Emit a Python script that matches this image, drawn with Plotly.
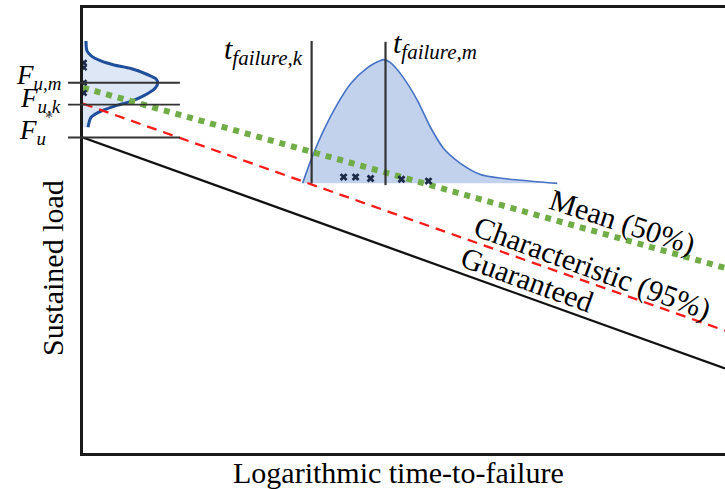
import plotly.graph_objects as go

# ---- data (conceptual units: log-time 0..100, load 0..100) ----
time_ends = [0, 100]
guaranteed_load = [70.9, 19.0]
characteristic_load = [78.5, 27.5]
mean_load = [82.1, 41.6]

# short-term strength distribution (left, drawn along the load axis)
strength_pdf_load = [92.6, 90.4, 89.3, 88.1, 87.2, 86.4, 85.0, 84.1, 83.2, 81.9,
                     80.3, 79.0, 77.9, 76.5, 75.4, 73.2]
strength_pdf_density = [0.47, 0.62, 1.24, 2.80, 4.82, 7.47, 10.11, 11.35, 11.66,
                        11.20, 9.49, 7.47, 4.82, 2.33, 1.24, 0.78]
strength_samples_load = [87.7, 86.6, 83.2, 80.9]
strength_samples_time = [0.15, 0.15, 0.15, 0.15]

# time-to-failure distribution (drawn above the sustained load level)
ttf_pdf_time = [34.21, 35.61, 37.48, 39.66, 41.68, 44.32, 45.88, 46.81, 47.90,
                49.92, 52.10, 54.12, 56.14, 58.79, 61.90, 65.47, 73.87]
ttf_pdf_load = [60.6, 66.2, 72.5, 78.5, 83.0, 86.6, 87.9, 88.4, 87.7, 84.3,
                79.2, 73.2, 68.5, 65.1, 62.6, 61.7, 60.6]
failure_time = [40.59, 42.46, 44.79, 49.61, 53.81]
failure_load = [62.0, 62.0, 61.7, 61.5, 61.1]

# reference levels
F_um, F_uk, F_u = 83.2, 78.3, 70.9
t_fail_k, t_fail_m = 35.61, 47.12
t_k_span = [60.6, 92.6]
t_m_span = [60.2, 92.4]

SERIF = "Liberation Serif, Times New Roman, serif"

fig = go.Figure()

fig.add_trace(go.Scatter(
    x=ttf_pdf_time, y=ttf_pdf_load, mode="lines", fill="toself",
    fillcolor="#c3d2ec", line=dict(color="#4472c4", width=1.6, shape="spline", smoothing=0.8),
    hoverinfo="skip", showlegend=False))

fig.add_trace(go.Scatter(
    x=strength_pdf_density, y=strength_pdf_load, mode="lines", fill="tozerox",
    fillcolor="#dde7f6", line=dict(color="#1f4e9a", width=3, shape="spline", smoothing=0.8),
    hoverinfo="skip", showlegend=False))

fig.add_trace(go.Scatter(x=time_ends, y=guaranteed_load, mode="lines",
                         line=dict(color="#111111", width=2.3), showlegend=False))
fig.add_trace(go.Scatter(x=time_ends, y=characteristic_load, mode="lines",
                         line=dict(color="#ff1a1a", width=2.3, dash="10px,7px"), showlegend=False))
fig.add_trace(go.Scatter(x=time_ends, y=mean_load, mode="lines",
                         line=dict(color="#70ad47", width=6, dash="dot"), showlegend=False))

fig.add_trace(go.Scatter(x=[t_fail_k, t_fail_k], y=t_k_span, mode="lines",
                         line=dict(color="#333333", width=2.2), showlegend=False))
fig.add_trace(go.Scatter(x=[t_fail_m, t_fail_m], y=t_m_span, mode="lines",
                         line=dict(color="#333333", width=2.2), showlegend=False))

fig.add_trace(go.Scatter(x=failure_time, y=failure_load, mode="markers",
                         marker=dict(symbol="x", size=7, color="#1c2a48"), showlegend=False))
fig.add_trace(go.Scatter(x=strength_samples_time, y=strength_samples_load, mode="markers",
                         cliponaxis=False,
                         marker=dict(symbol="x", size=6, color="#1c2a48"), showlegend=False))

# level guide lines (extend a little left of the load axis)
for lvl in [F_um, F_uk, F_u]:
    fig.add_shape(type="line", xref="paper", yref="y", x0=-0.0234, x1=0.151,
                  y0=lvl, y1=lvl, line=dict(color="#333333", width=1.8), layer="above")

ann_font = dict(family=SERIF, size=27, color="black")
fig.add_annotation(xref="paper", yref="paper", x=-0.031, y=0.845, xanchor="right", yanchor="middle",
                   text="<i>F<sub>u,m</sub></i>", showarrow=False, font=ann_font)
fig.add_annotation(xref="paper", yref="paper", x=-0.031, y=0.793, xanchor="right", yanchor="middle",
                   text="<i>F<sub>u,k</sub></i>", showarrow=False, font=ann_font)
fig.add_annotation(xref="paper", yref="paper", x=-0.0545, y=0.721, xanchor="right", yanchor="middle",
                   text="<i>F<sub>u</sub></i>", showarrow=False, font=ann_font)
fig.add_annotation(xref="paper", yref="paper", x=-0.053, y=0.755, xanchor="center", yanchor="middle",
                   text="*", showarrow=False, font=dict(family=SERIF, size=16, color="#444"))

t_font = dict(family=SERIF, size=30, color="black")
fig.add_annotation(xref="paper", yref="paper", x=0.2165, y=0.903, xanchor="left", yanchor="middle",
                   text="<i>t<sub>failure,k</sub></i>", showarrow=False, font=t_font)
fig.add_annotation(xref="paper", yref="paper", x=0.4798, y=0.917, xanchor="left", yanchor="middle",
                   text="<i>t<sub>failure,m</sub></i>", showarrow=False, font=t_font)

lbl_font = dict(family=SERIF, size=30, color="black")
fig.add_annotation(x=84.0, y=51.9, text="Mean (50%)", textangle=18, showarrow=False, font=lbl_font)
fig.add_annotation(x=79.3, y=41.6, text="Characteristic (95%)", textangle=20, showarrow=False, font=lbl_font)
fig.add_annotation(x=69.2, y=38.9, text="Guaranteed", textangle=20, showarrow=False, font=lbl_font)

fig.add_annotation(xref="paper", yref="paper", x=0.4907, y=-0.0427, xanchor="center", yanchor="middle",
                   text="Logarithmic time-to-failure", showarrow=False, font=lbl_font)
fig.add_annotation(xref="paper", yref="paper", x=-0.0483, y=0.4157, xanchor="center", yanchor="middle",
                   text="Sustained load", textangle=-90, showarrow=False, font=lbl_font)

fig.update_xaxes(range=[0, 100], showline=True, mirror=True, linecolor="#1a1a1a", linewidth=2.5,
                 showgrid=False, zeroline=False, showticklabels=False, ticks="")
fig.update_yaxes(range=[0, 100], showline=True, mirror=False, linecolor="#1a1a1a", linewidth=2.5,
                 showgrid=False, zeroline=False, showticklabels=False, ticks="")

fig.update_layout(width=725, height=489, margin=dict(l=83, r=0, t=8, b=36),
                  paper_bgcolor="white", plot_bgcolor="white", showlegend=False,
                  font=dict(family=SERIF))

fig.write_html("out.html")
